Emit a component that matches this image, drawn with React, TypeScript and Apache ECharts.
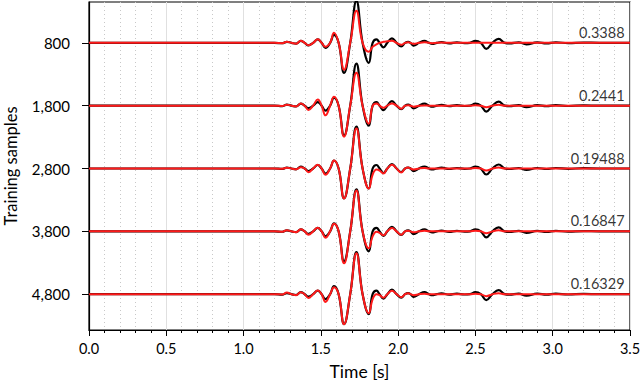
import React, { useEffect, useRef } from "react";
import * as echarts from "echarts";

// Training-sample rows (y axis)
const rows = [800, 1800, 2800, 3800, 4800];
const errors = ["0.3388", "0.2441", "0.19488", "0.16847", "0.16329"];
const xTicks = [0, 0.5, 1, 1.5, 2, 2.5, 3, 3.5];

// Sample times [s] (waveform read at peaks, troughs and crossings)
const times = [
  0, 1.2, 1.25, 1.28, 1.31, 1.34, 1.37, 1.395, 1.42, 1.45,
  1.48, 1.505, 1.53, 1.56, 1.585, 1.615, 1.65, 1.69, 1.73, 1.77,
  1.81, 1.835, 1.86, 1.88, 1.905, 1.93, 1.96, 1.99, 2.02, 2.045,
  2.065, 2.08, 2.1, 2.135, 2.17, 2.2, 2.22, 2.25, 2.28, 2.33,
  2.38, 2.43, 2.465, 2.5, 2.535, 2.57, 2.61, 2.65, 2.69, 2.72,
  2.78, 2.83, 2.9, 2.96, 3.02, 3.1, 3.2, 3.3, 3.5,
];

// True waveform (black), amplitude in relative units, positive = up
const trueWave = [
  0, 0, -0.4, 1, 0, -0.8, 2, 0, -2.5, 0,
  3.5, 0, -5, 0, 8, 0, -30, 0, 42, 0,
  -20, 0, 3.5, 0, -4.5, 0, 4.5, 0, -3.5, 0,
  1, 0, -2.7, 0, 2, 0, -1, 0, 0.8, -0.5,
  0.5, -0.3, 0, 2, 0, -6, 0, 4, 0, -0.5,
  0.5, -1.5, 0.5, -0.5, 0.5, -0.3, 0.3, 0, 0,
];

// Predicted waveforms (red), one per row
const pred800 = [
  0, 0, -0.3, 1, 0, -0.8, 2, 0, -2.5, 0,
  3.5, 0, -4, 0, 10, 0, -27, 0, 32, 0,
  -9, -4, -1.5, 0, 1, 1.5, 2, 0, -2, 0,
  0.5, 0, -1, 0, 0.5, 0, -0.3, 0, 0.3, 0,
  0, 0, 0, 0, 0, 0, 0, 0, 0, 0,
  0, 0, 0, 0, 0, 0, 0, 0, 0,
];
const pred1800 = [
  0, 0, -0.3, 1, 0, -0.8, 2.3, 0, -4.3, 0,
  6.3, 0, -9.7, 0, 9, 0, -31, 0, 33, 0,
  -18, 0, 2.3, 0, -2, 0, 2.3, 0, -3, 0,
  0.5, 0, -1, 0, 0.3, 0, 0, 0, 0, 0,
  0, 0, 0, 0.5, 0, -1.5, 0, 1, 0, 0,
  0, 0, 0, 0, 0, 0, 0, 0, 0,
];
const pred2800 = [
  0, 0, -0.3, 0.8, 0, -0.8, 1.3, 0, -3.7, 0,
  3.7, 0, -6.3, 0, 8, 0, -30, 0, 40, 0,
  -20, -6, -1, -2, -5, 0, 3.7, 0, -4, 0,
  1, 0, -1, 0, 0.5, 0, 0, 0, 0, 0,
  0, 0, 0, 0.5, 0, -2, 0, 1, 0, 0,
  0, 0, 0, 0, 0, 0, 0, 0, 0,
];
const pred3800 = [
  0, 0, -0.3, 1, 0, -0.8, 2, 0, -3.3, 0,
  3.7, 0, -6.3, 0, 7.7, 0, -32, 0, 41, 0,
  -17, -5, -0.5, -1.5, -4, 0, 3.3, 0, -3.5, 0,
  0.5, 0, -1, 0, 0.5, 0, 0, 0, 0, 0,
  0, 0, 0, 0.5, 0, -2, 0, 1, 0, 0,
  0, 0, 0, 0, 0, 0, 0, 0, 0,
];
const pred4800 = [
  0, 0, -0.3, 1.7, 0, -1, 2, 0, -3.7, 0,
  3.7, 0, -7.7, 0, 7, 0, -30, 0, 41, 0,
  -19, -5, 0, -1, -3.5, 0, 3.5, 0, -3, 0,
  1, 0, -1, 0, 0.5, 0, 0, 0, 0, 0,
  0, 0, 0, 0.5, 0, -2, 0, 1, 0, 0,
  0, 0, 0, 0, 0, 0, 0, 0, 0,
];
const predictions = [pred800, pred1800, pred2800, pred3800, pred4800];

const AMP = 15.9; // relative amplitude unit -> training-sample axis units
const FONT = "Lato";

export default function App() {
  const ref = useRef<HTMLDivElement>(null);
  useEffect(() => {
    document.body.style.margin = "0";
    if (!ref.current) return;
    const chart = echarts.init(ref.current, undefined, { renderer: "svg" });
    const series: any[] = [];
    rows.forEach((base, k) => {
      series.push({
        type: "line",
        data: times.map((t, i) => [t, base - trueWave[i] * AMP]),
        showSymbol: false,
        smooth: 0.45,
        lineStyle: { color: "#000000", width: 2.2 },
        itemStyle: { color: "#000000" },
        silent: true,
        z: 2,
      });
      series.push({
        type: "line",
        data: times.map((t, i) => [t, base - predictions[k][i] * AMP]),
        showSymbol: false,
        smooth: 0.45,
        lineStyle: { color: "#ff1a1a", width: 2 },
        itemStyle: { color: "#ff1a1a" },
        silent: true,
        z: 3,
      });
    });
    series.push({
      type: "scatter",
      data: rows.map((base, k) => [3.465, base, errors[k]]),
      symbolSize: 0,
      silent: true,
      z: 4,
      label: {
        show: true,
        position: "inside",
        align: "right",
        verticalAlign: "bottom",
        offset: [0, -3],
        formatter: (p: any) => p.value[2],
        color: "#000",
        fontFamily: FONT,
        fontSize: 14.5,
      },
    });

    chart.setOption({
      animation: false,
      textStyle: { fontFamily: FONT },
      grid: {
        left: 89,
        right: 10,
        top: 2,
        bottom: 50,
        show: true,
        borderColor: "#000",
        borderWidth: 1.2,
        containLabel: false,
        outerBoundsMode: "none",
      },
      xAxis: {
        type: "value",
        min: 0,
        max: 3.5,
        interval: 0.5,
        name: "Time [s]",
        nameLocation: "middle",
        nameGap: 32,
        nameTextStyle: { color: "#000", fontSize: 17.5, fontFamily: FONT },
        axisLine: { show: true, lineStyle: { color: "#000", width: 1.2 } },
        axisTick: { show: true, inside: false, length: 6, lineStyle: { color: "#000" } },
        minorTick: { show: true, splitNumber: 5, length: 3, lineStyle: { color: "#000" } },
        axisLabel: {
          color: "#000",
          fontSize: 14.5,
          fontFamily: FONT,
          margin: 11,
          customValues: xTicks,
          formatter: (v: number) => v.toFixed(1),
        },
        splitLine: { show: true, lineStyle: { color: "#e0e0e0", width: 1 } },
        minorSplitLine: { show: true, lineStyle: { color: "#c8c8c8", type: [1, 3], width: 1 } },
      },
      yAxis: {
        type: "value",
        inverse: true,
        min: 150,
        max: 5370,
        name: "Training samples",
        nameLocation: "middle",
        nameGap: 70,
        nameTextStyle: { color: "#000", fontSize: 16.5, fontFamily: FONT },
        axisLine: { show: true, lineStyle: { color: "#000", width: 1.2 } },
        axisTick: { show: true, length: 7, customValues: rows, lineStyle: { color: "#000" } },
        axisLabel: {
          color: "#000",
          fontSize: 15,
          fontFamily: FONT,
          margin: 19,
          customValues: rows,
          formatter: (v: number) => v.toLocaleString("en-US"),
        },
        splitLine: { show: false },
      },
      series,
    });
    return () => chart.dispose();
  }, []);
  return (
    <div
      ref={ref}
      style={{ width: 640, height: 380, position: "absolute", left: 0, top: 0 }}
    />
  );
}
